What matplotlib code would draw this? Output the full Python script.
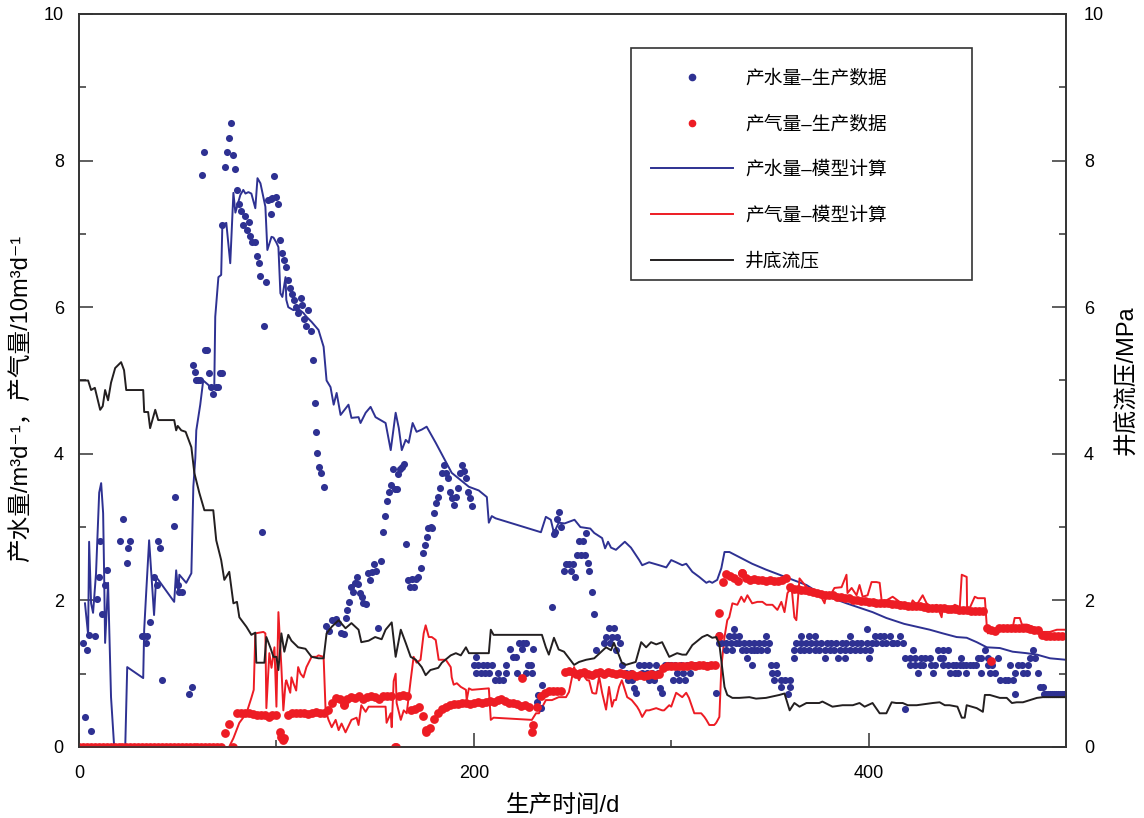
import numpy as np
import matplotlib.pyplot as plt
from matplotlib.lines import Line2D
from matplotlib.patches import Rectangle

plt.rcParams['font.family'] = ['Liberation Sans', 'Noto Sans CJK SC', 'DejaVu Sans']

BLUE = '#2e3192'
RED = '#ed1c24'
BLACK = '#231f20'

# measured water rate, (day, m3/d)
water_early = [(2, 1.42), (3, 0.41), (4.1, 1.32), (5.1, 1.53), (6.1, 0.22), (8.1, 1.51), (9.1, 2.02),
               (10.2, 2.32), (10.7, 2.81), (11.7, 1.81), (13.2, 2.21), (14.2, 2.41), (20.8, 2.81),
               (22.3, 3.11), (24.4, 2.51), (24.9, 2.71), (25.9, 2.81), (32, 1.51), (33, 1.51), (34, 1.42),
               (34.5, 1.51), (36, 1.71), (38, 2.32), (39.6, 2.21), (40.1, 2.81), (41.1, 2.71), (42.1, 0.91),
               (48.2, 3.01), (48.7, 3.41), (50.3, 2.21), (50.8, 2.11), (52.3, 2.11), (55.8, 0.72), (57.4, 0.82)]
water_peak = [(57.9, 5.21), (58.9, 5.11), (59.4, 5.0), (60.4, 5.0), (61.4, 5.0), (62.1, 7.81), (63.3, 8.12),
              (64, 5.42), (65, 5.42), (66, 5.1), (67, 4.91), (68, 4.82), (69.5, 4.91), (70.5, 4.91),
              (71.6, 5.1), (72.6, 5.1), (72.6, 7.12), (74.1, 7.91), (75.1, 8.12), (76.1, 8.31), (77.2, 8.51),
              (78.2, 8.08), (79.2, 7.89), (80.2, 7.6), (81.2, 7.41), (82.2, 7.31), (83.2, 7.12), (84.3, 7.24),
              (85.3, 7.05), (86.3, 7.16), (86.8, 6.97), (87.8, 6.89), (89.3, 6.89), (90.4, 6.7), (91.4, 6.6),
              (91.9, 6.43), (92.9, 2.93), (93.9, 5.74), (94.9, 6.34), (95.9, 7.46), (97, 7.48), (97, 7.27),
              (98, 7.49), (99, 7.79), (100, 7.5), (101, 7.41), (102, 6.92), (103, 6.74), (104, 6.64),
              (105, 6.55), (106, 6.37), (107, 6.26), (108, 6.18), (109, 6.1), (110, 6.0), (111, 5.92),
              (112.2, 6.12), (113.2, 6.03), (114.2, 5.84), (115.2, 5.74), (116.2, 5.96), (117.3, 5.68),
              (118.3, 5.28), (119.3, 4.69), (119.8, 4.3), (120.8, 4.01), (121.8, 3.82), (122.8, 3.74),
              (123.9, 3.55)]
water_mid = [(124.9, 1.65), (126.4, 1.58), (128, 1.73), (130, 1.74), (131, 1.69), (132.5, 1.56), (134, 1.54),
             (135, 1.76), (136, 1.87), (137, 1.98), (138, 2.18), (139, 2.11), (139.6, 2.24), (140.6, 2.32),
             (141.1, 2.22), (142.1, 2.1), (143.1, 2.05), (143.7, 1.96), (145.2, 1.95), (146.2, 2.37),
             (147.2, 2.28), (148.2, 2.39), (149.2, 2.5), (150.2, 2.4), (151.3, 1.62), (152.8, 2.54),
             (153.8, 2.93), (154.8, 3.15), (155.8, 3.36), (156.9, 3.48), (157.9, 3.57), (158.9, 3.79),
             (159.9, 3.52), (160.9, 3.52), (161.4, 3.72), (162.4, 3.79), (163.5, 3.82), (164.5, 3.86),
             (165.5, 2.77), (166.5, 2.28), (167.5, 2.18), (168.5, 2.29), (169.5, 2.18), (170.6, 2.29),
             (171.6, 2.32), (173.1, 2.44), (174.1, 2.65), (175.1, 2.76), (176.1, 2.87), (176.6, 2.99),
             (178.1, 3.0), (178.7, 2.99), (179.7, 3.19), (180.7, 3.33), (181.7, 3.41), (182.7, 3.53),
             (183.8, 3.74), (184.8, 3.85), (185.8, 3.74), (186.8, 3.67), (187.8, 3.48), (188.8, 3.4),
             (189.8, 3.3), (190.9, 3.41), (191.9, 3.53), (192.9, 3.74), (193.9, 3.85), (194.9, 3.77),
             (195.9, 3.67), (196.9, 3.48), (198, 3.4), (199, 3.29)]
water_late1 = [(200, 1.12), (201, 1.23), (201, 1.01), (202, 1.12), (203.6, 1.01), (204.5, 1.12), (205.8, 1.01),
               (206.6, 1.12), (207.8, 1.01), (209, 1.12), (210.6, 0.91), (212, 1.01), (213, 0.91), (215, 0.91),
               (216.4, 1.01), (216.4, 1.12), (218.5, 1.34), (219.7, 1.23), (221.4, 1.23), (222, 1.01),
               (223, 1.42), (224.4, 1.34), (224.8, 1.42), (226.4, 1.42), (226.4, 1.01), (227.6, 1.12),
               (229.2, 1.12), (229.5, 1.01), (229.8, 1.34), (232, 0.61), (232.6, 0.71), (234, 0.53),
               (234.5, 0.85), (239.6, 1.91), (240.6, 2.9), (241.2, 2.93), (242, 3.11), (243, 3.2), (244, 3.0),
               (245.7, 2.4), (246.7, 2.5), (248.2, 2.5), (249.2, 2.4), (250.3, 2.5), (251.3, 2.32),
               (252.3, 2.62), (253.3, 2.81), (254.3, 2.62), (255.4, 2.81), (256.4, 2.62), (256.9, 2.92),
               (258, 2.51), (258.5, 2.4), (260, 2.11), (261, 1.81)]
water_late2 = [(262, 1.32), (262.4, 1.01), (264.5, 1.01), (266, 1.42), (267, 1.5), (268.5, 1.62), (269, 1.42),
               (270, 1.5), (271, 1.62), (272, 1.32), (272.5, 1.5), (274, 1.42), (275, 1.12), (277, 1.01),
               (278, 0.91), (279.6, 1.01), (280, 0.91), (281, 0.8), (282, 0.74), (283.8, 1.12), (285, 1.01),
               (286.3, 1.12), (287.5, 1.01), (288.5, 0.91), (289, 1.12), (290.5, 1.01), (291.5, 0.91),
               (292.4, 1.12), (293.5, 1.01), (294.5, 0.8), (295.5, 0.74), (297, 1.12), (298.5, 1.12),
               (300, 1.12), (301, 0.91), (302, 1.12), (303, 1.01), (304, 0.91), (305, 1.12), (306, 1.01),
               (307, 0.91), (308, 1.12), (309.5, 1.01), (311, 1.12), (312.5, 1.12), (314, 1.12), (316, 1.12),
               (318, 1.12), (320, 1.12), (322.8, 0.74), (324.4, 1.53)]
water_tail = [(324.4, 1.42), (325.4, 1.42), (328, 1.42), (330.5, 1.42), (333, 1.42), (334.5, 1.42), (337, 1.42),
              (339.6, 1.42), (342, 1.42), (344.7, 1.42), (347, 1.42), (349.7, 1.42), (329.4, 1.51), (332, 1.51),
              (334.5, 1.51), (348, 1.51), (332, 1.61), (328, 1.32), (331, 1.32), (336, 1.32), (338, 1.32),
              (340.6, 1.32), (342, 1.32), (343.7, 1.32), (345.7, 1.32), (348.7, 1.32), (338.6, 1.21),
              (341, 1.12), (350.8, 1.12), (353.3, 1.12), (351.3, 1.01), (353.8, 1.01), (352.3, 0.91),
              (355.8, 0.91), (357.4, 0.91), (360, 0.91), (355.8, 0.82), (360, 0.82), (359, 0.72),
              (362.4, 1.32), (365, 1.32), (367.5, 1.32), (370, 1.32), (372.6, 1.32), (375, 1.32), (377.7, 1.32),
              (380.2, 1.32), (382.7, 1.32), (385.3, 1.32), (387.8, 1.32), (390.4, 1.32), (392.9, 1.32),
              (395.4, 1.32), (398, 1.32), (400.5, 1.32), (363.4, 1.42), (366, 1.42), (368.5, 1.42), (371, 1.42),
              (373.6, 1.42), (376.1, 1.42), (378.7, 1.42), (381.2, 1.42), (383.7, 1.42), (386.3, 1.42),
              (388.8, 1.42), (391.4, 1.42), (393.9, 1.42), (396.4, 1.42), (399, 1.42), (401.5, 1.42),
              (404, 1.42), (406.6, 1.42), (409, 1.42), (411.7, 1.42), (414.2, 1.42), (366, 1.51), (370, 1.51),
              (372.6, 1.51), (390.4, 1.51), (403, 1.51), (405.6, 1.51), (408, 1.51), (410.7, 1.51),
              (415.7, 1.51), (399, 1.61), (362.4, 1.21), (377.7, 1.21), (384.3, 1.21), (387.8, 1.21),
              (400, 1.21), (412.2, 1.42), (417.3, 1.42), (422.3, 1.32), (435, 1.32), (437.6, 1.32),
              (440.1, 1.32), (458.9, 1.32), (483.2, 1.32), (418.3, 1.21), (420.8, 1.21), (423.4, 1.21),
              (426.8, 1.21), (428.4, 1.21), (431, 1.21), (436, 1.21), (437.6, 1.21), (447, 1.21),
              (455.5, 1.21), (457.2, 1.21), (460.5, 1.21), (465.6, 1.21), (481.7, 1.21), (484.3, 1.21),
              (420.8, 1.12), (423.4, 1.12), (425.9, 1.12), (427.6, 1.12), (431.8, 1.12), (433.5, 1.12),
              (437.7, 1.12), (440.2, 1.12), (442.8, 1.12), (444.5, 1.12), (446.2, 1.12), (447.8, 1.12),
              (449.5, 1.12), (451.3, 1.12), (453, 1.12), (454.6, 1.12), (460.5, 1.12), (462.3, 1.12),
              (471.6, 1.12), (475.8, 1.12), (477.5, 1.12), (480.9, 1.12), (425, 1.01), (432.6, 1.01),
              (441.1, 1.01), (443.7, 1.01), (445.3, 1.01), (449.2, 1.01), (456.7, 1.01), (461.4, 1.01),
              (464, 1.01), (474, 1.01), (478.3, 1.01), (480, 1.01), (485.9, 1.01), (466.5, 0.91), (469, 0.91),
              (470.7, 0.91), (473.2, 0.91), (418.3, 0.52), (474, 0.72), (486.8, 0.82), (488.3, 0.82),
              (489, 0.72), (490, 0.72), (491, 0.72), (492, 0.72), (493, 0.72), (494, 0.72), (495, 0.72),
              (496, 0.72), (497, 0.72), (498, 0.72), (499, 0.72), (500, 0.72)]

# measured gas rate, 10 m3/d, every second day from day 0
gas_rate = [0, 0, 0, 0, 0, 0, 0, 0, 0, 0, 0, 0, 0, 0, 0, 0, 0, 0, 0, 0,
            0, 0, 0, 0, 0, 0, 0, 0, 0, 0, 0, 0, 0, 0, 0, 0, 0, 0.19, 0.31, 0,
            0.46, 0.46, 0.46, 0.47, 0.45, 0.44, 0.43, 0.44, 0.41, 0.43, 0.43, 0.2, 0.12, 0.43, 0.46, 0.47, 0.46, 0.47, 0.45, 0.47,
            0.48, 0.46, 0.47, 0.5, 0.6, 0.67, 0.66, 0.58, 0.66, 0.68, 0.67, 0.69, 0.66, 0.68, 0.69, 0.68, 0.66, 0.69, 0.7, 0.69,
            0, 0.7, 0.71, 0.7, 0.5, 0.52, 0.55, 0.42, 0.2, 0.26, 0.38, 0.47, 0.52, 0.55, 0.57, 0.58, 0.58, 0.6, 0.6, 0.59,
            0.6, 0.62, 0.6, 0.62, 0.63, 0.62, 0.64, 0.65, 0.63, 0.6, 0.6, 0.58, 0.56, 0.57, 0.55, 0.3, 0.55, 0.7, 0.74, 0.76,
            0.76, 0.77, 0.76, 1.02, 1.03, 1.02, 1.0, 1.01, 1.02, 1.0, 0.98, 1.01, 1.02, 1.0, 1.02, 1.01, 1.0, 1.01, 0.99, 0.98,
            1.0, 0.97, 0.98, 0.97, 0.98, 0.99, 0.98, 1.0, 1.08, 1.1, 1.1, 1.11, 1.1, 1.11, 1.11, 1.12, 1.11, 1.12, 1.12, 1.11,
            1.12, 1.12, 1.83, 2.25, 2.36, 2.33, 2.3, 2.27, 2.37, 2.3, 2.28, 2.29, 2.28, 2.28, 2.27, 2.28, 2.27, 2.27, 2.28, 2.3,
            2.18, 2.16, 2.15, 2.14, 2.14, 2.13, 2.12, 2.1, 2.09, 2.08, 2.07, 2.07, 2.05, 2.05, 2.03, 2.03, 2.01, 2.0, 1.99, 1.99,
            1.98, 1.98, 1.97, 1.97, 1.96, 1.96, 1.95, 1.95, 1.94, 1.94, 1.93, 1.93, 1.92, 1.92, 1.91, 1.9, 1.9, 1.9, 1.89, 1.89,
            1.88, 1.88, 1.88, 1.87, 1.87, 1.87, 1.86, 1.86, 1.86, 1.85, 1.62, 1.6, 1.58, 1.63, 1.63, 1.62, 1.63, 1.62, 1.62, 1.62,
            1.62, 1.61, 1.6, 1.6, 1.53, 1.52, 1.52, 1.52, 1.52, 1.52]
gas_extra = [(102.5, 0.14), (103.5, 0.1), (134, 0.57), (160.4, 0), (176, 0.23), (224.4, 0.94),
             (229.4, 0.2), (324.4, 1.51), (336, 2.37), (461.8, 1.18)]

# simulated water rate (m3/d)
model_water = [(3, 1.96), (4.6, 1.53), (5.1, 2.8), (6.1, 1.96), (7.1, 1.83), (8.6, 2.37), (10.2, 3.47),
               (11.2, 3.6), (12.2, 3.19), (12.7, 2.37), (13.2, 1.42), (14.7, 2.24), (16.2, 0.68), (17.8, 0),
               (23.4, 0), (24.4, 1.09), (32.5, 0.94), (33, 1.6), (34, 2.1), (35.5, 2.82), (36.5, 2.41),
               (38, 1.8), (39.1, 2.32), (48.2, 1.98), (49.2, 2.41), (50.3, 2.1), (50.8, 2.35), (54.3, 2.24),
               (56.9, 2.37), (57.9, 3.55), (58.9, 3.94), (59.4, 4.32), (61.4, 4.67), (62.9, 5.0), (65.5, 4.94),
               (67, 4.87), (68.5, 4.9), (69, 5.87), (70.6, 6.41), (72, 6.44), (72.6, 7.12), (74.6, 7.15),
               (76.6, 6.6), (78.2, 7.56), (79.2, 7.29), (81.7, 7.53), (83.2, 7.6), (84.3, 7.55), (85.8, 7.57),
               (87.3, 7.55), (89.3, 7.35), (90.4, 7.76), (91.9, 7.69), (94.4, 7.37), (95.4, 6.78), (97.5, 6.96),
               (98.5, 6.95), (100, 6.88), (101, 6.82), (102, 6.19), (103, 6.14), (104.6, 6.41), (105, 6.1),
               (106, 6.0), (108.6, 5.96), (111, 5.98), (113.7, 5.92), (115.2, 5.87), (117.8, 5.8),
               (121.3, 5.69), (123.9, 5.46), (125.4, 5.0), (127.4, 4.91), (129, 4.67), (130.5, 4.83),
               (132.5, 4.53), (136.5, 4.67), (138, 4.49), (141.6, 4.5), (142.6, 4.42), (145.2, 4.56),
               (147.7, 4.64), (150.2, 4.5), (155.3, 4.42), (157.9, 4.05), (160.4, 4.56), (162, 4.35),
               (163.5, 4.05), (165.5, 4.19), (167, 4.15), (169, 4.42), (171, 4.3), (173.6, 4.33), (176.1, 4.37),
               (180.7, 4.15), (185.8, 3.89), (188.8, 3.74), (193.4, 3.64), (197.5, 3.55), (202.5, 3.5),
               (206.6, 3.41), (207.6, 3.06), (209.1, 3.15), (211, 3.12), (234, 2.93), (236.5, 3.14), (239, 3.1),
               (240.6, 2.92), (243, 3.06), (246, 3.05), (251, 3.1), (254, 3.0), (259, 2.98), (261, 2.92),
               (265, 2.85), (266.5, 2.71), (268, 2.8), (269.5, 2.72), (272, 2.69), (276.5, 2.8), (279.6, 2.72),
               (283.8, 2.55), (285.3, 2.48), (288.8, 2.52), (293.9, 2.48), (297.5, 2.45), (300, 2.55),
               (302.5, 2.52), (305.6, 2.48), (307.6, 2.5), (310.7, 2.39), (314.2, 2.32), (317.8, 2.24),
               (319.3, 2.26), (320.8, 2.24), (323.3, 2.28), (325.4, 2.44), (327, 2.66), (329.5, 2.66),
               (334.5, 2.59), (341, 2.5), (348, 2.42), (354.8, 2.35), (361.5, 2.28), (368.5, 2.21), (375, 2.1),
               (381.7, 2.03), (388.8, 1.96), (395.4, 1.9), (402, 1.84), (409, 1.76), (415.7, 1.7), (418, 1.68),
               (424.4, 1.64), (431, 1.6), (437.6, 1.55), (444.6, 1.5), (449.7, 1.49), (454.8, 1.43),
               (459.9, 1.36), (466.5, 1.35), (473, 1.3), (480, 1.28), (485.3, 1.26), (491.9, 1.21), (500, 1.19)]

# simulated gas rate (10 m3/d)
model_gas = [(0, 0), (76, 0), (78.2, 0.12), (81.2, 0.33), (84.8, 0.46), (87.3, 0.67), (88.5, 0.78), (89.3, 1.55),
             (93.4, 1.57), (94.4, 1.55), (94.9, 0.53), (96.4, 1.28), (97.5, 1.08), (99, 1.36), (100, 0.55),
             (101, 1.84), (102.5, 1.09), (103.5, 0.5), (104.6, 0.87), (105, 0.91), (107, 0.74), (107.6, 0.95),
             (108.6, 0.87), (110, 0.77), (111, 1.09), (112.2, 1.0), (113.7, 0.95), (115.2, 1.09), (117.8, 1.23),
             (120.3, 1.23), (121.3, 1.25), (123.9, 1.23), (124.9, 0.5), (126.4, 0.37), (128, 0.27), (130, 0.37),
             (131.5, 0.23), (133, 0.32), (135, 0.2), (138, 0.37), (140.6, 0.4), (141.6, 0.3), (143, 0.57),
             (145.2, 0.48), (146.7, 0.55), (148.2, 0.55), (155.3, 0.55), (155.8, 0.33), (157.9, 0.46),
             (158.4, 0.27), (159.4, 0.9), (160.4, 1.0), (160.9, 0.6), (163, 0.37), (164.5, 0.5), (166, 0.46),
             (168, 0.91), (169.5, 1.23), (171, 1.15), (173, 1.19), (174.6, 1.55), (175.6, 1.66), (177.2, 1.5),
             (178.7, 1.5), (180.7, 1.46), (182.2, 1.19), (185.8, 1.19), (188.3, 1.09), (188.8, 0.95),
             (189.8, 0.85), (191.4, 0.87), (193.4, 0.82), (196, 0.78), (196.4, 0.64), (197.5, 0.8), (199, 0.78),
             (207.6, 0.8), (208.6, 0.37), (210, 0.4), (229.4, 0.37), (231.5, 0.46), (233, 0.46), (236.5, 0.64),
             (239.6, 0.64), (243, 0.68), (246.7, 0.68), (248.2, 0.75), (250.8, 1.09), (251.8, 1.0),
             (253.3, 0.91), (254.8, 1.0), (257.4, 0.91), (258.4, 0.91), (260, 0.74), (261, 0.73), (262, 0.73),
             (263.5, 0.96), (265, 0.74), (267, 0.51), (268.5, 0.82), (270, 0.55), (271, 0.64), (272, 0.64),
             (273.6, 0.82), (275, 0.91), (277.7, 0.68), (280, 0.64), (282.7, 0.55), (283.8, 0.5), (285.3, 0.41),
             (287.3, 0.5), (288.8, 0.5), (292.4, 0.53), (295.4, 0.5), (296.4, 0.5), (299, 0.57), (300, 0.55),
             (302.5, 0.74), (305.6, 0.68), (307.6, 0.74), (309, 0.67), (311.7, 0.46), (314.2, 0.46),
             (315.2, 0.46), (316.8, 0.41), (317.8, 0.37), (319.3, 0.3), (320.3, 0.3), (321.8, 0.3),
             (322.8, 0.33), (324.4, 0.41), (325.4, 1.09), (327, 1.5), (328.4, 1.73), (329.4, 1.77), (331, 1.96),
             (333.5, 1.94), (335.5, 2.05), (337, 1.98), (338.6, 2.07), (341, 1.96), (343.7, 1.98), (346.2, 1.98),
             (348.2, 1.94), (351.3, 1.94), (353.8, 1.87), (355.8, 1.98), (357.4, 1.84), (358.9, 2.1),
             (361, 2.18), (362.4, 1.77), (363.4, 1.73), (365, 2.3), (366.5, 2.25), (369, 2.17), (371.6, 2.14),
             (375, 2.1), (377.7, 1.96), (378.7, 2.11), (380.2, 2.05), (382.7, 2.17), (386.3, 2.18),
             (388.8, 2.35), (389.3, 2.1), (391.4, 2.17), (393.9, 2.07), (395.4, 2.21), (397, 2.05),
             (399.5, 2.07), (401.5, 2.25), (404, 2.25), (405.6, 2.24), (406.6, 2.0), (409, 2.0), (412.2, 2.05),
             (415.7, 1.98), (418.3, 1.96), (420.8, 1.89), (422.3, 2.0), (424.4, 1.94), (427.4, 2.07),
             (429.4, 1.96), (432, 1.91), (434.5, 1.94), (437, 1.77), (437.6, 1.91), (440, 1.87), (443.7, 1.94),
             (446.2, 1.91), (447.2, 2.35), (449.7, 2.32), (449.9, 1.9), (451.3, 1.9), (453.8, 2.05),
             (455.3, 2.03), (458.9, 2.03), (459.9, 1.64), (460.4, 1.55), (462.4, 1.57), (465, 1.6), (468, 1.6),
             (473, 1.63), (474, 1.76), (476.6, 1.76), (477.7, 1.67), (480.2, 1.67), (483.2, 1.64), (485.8, 1.6),
             (488.3, 1.57), (491.9, 1.57), (495.4, 1.6), (500, 1.6)]

# bottomhole flowing pressure (MPa)
bhp = [(0, 5.0), (2, 5.0), (4.6, 5.0), (6.1, 4.87), (8, 4.9), (10.7, 4.6), (12, 4.65), (13.2, 4.87), (14.7, 4.73),
       (16.2, 4.97), (18.3, 5.17), (21.3, 5.25), (22.8, 5.14), (23.9, 4.87), (32.5, 4.87), (33, 4.57), (35, 4.57),
       (36, 4.35), (38.6, 4.6), (40.1, 4.46), (48.2, 4.46), (49.2, 4.32), (50, 4.38), (51.8, 4.32), (54, 4.3),
       (56.9, 4.09), (58.4, 3.74), (60.9, 3.47), (63.5, 3.23), (68, 3.23), (69.5, 2.82), (72, 2.55), (73.6, 2.28),
       (76.1, 2.39), (78.2, 1.96), (80, 1.98), (81.2, 1.77), (84.8, 1.64), (87.3, 1.53), (89.3, 1.56),
       (89.8, 1.15), (93.9, 1.15), (94.9, 1.5), (97, 1.35), (98.5, 1.23), (100, 1.23), (101, 1.05),
       (102.5, 1.55), (104, 1.3), (106, 1.53), (107.6, 1.45), (111, 1.36), (114.7, 1.34), (117.8, 1.23),
       (121.3, 1.21), (123.9, 1.21), (125.4, 1.55), (128, 1.64), (131.5, 1.73), (135, 1.62), (138, 1.69),
       (141.6, 1.6), (143, 1.43), (146.7, 1.45), (150, 1.5), (153.3, 1.47), (155.3, 1.6), (158.4, 1.7),
       (160.4, 1.23), (163, 1.6), (165.5, 1.42), (168, 1.23), (170.6, 1.19), (173.6, 1.09), (175.6, 0.98),
       (178, 1.05), (182, 1.08), (183.8, 1.15), (188.3, 1.25), (190.9, 1.28), (193.4, 1.25), (196, 1.36),
       (197.5, 1.28), (201, 1.28), (207.6, 1.28), (208.6, 1.6), (210, 1.53), (234.5, 1.53), (236.5, 1.36),
       (238, 1.26), (240.6, 1.49), (243, 1.33), (245.7, 1.3), (250.8, 1.12), (253.3, 1.16), (256.9, 1.19),
       (261, 1.21), (267, 1.36), (269.5, 1.32), (271, 1.42), (275, 1.15), (277, 1.12), (282, 1.16),
       (284.8, 1.43), (287.3, 1.36), (289.8, 1.43), (292.4, 1.4), (295.4, 1.43), (299, 1.23), (303, 1.28),
       (305.6, 1.26), (307.6, 1.26), (310.7, 1.39), (315.7, 1.5), (318.3, 1.53), (320.8, 1.49), (322.8, 1.5),
       (324.4, 1.4), (327, 0.82), (328.4, 0.71), (331, 0.67), (334.5, 0.67), (339.6, 0.68), (343, 0.66),
       (348, 0.67), (349.7, 0.68), (354.8, 0.71), (357.4, 0.73), (360, 0.5), (362.4, 0.6), (365, 0.55),
       (368.5, 0.6), (375, 0.6), (376.6, 0.62), (381.7, 0.55), (386.8, 0.57), (392, 0.57), (395.4, 0.6),
       (398, 0.55), (402, 0.6), (405.6, 0.46), (409, 0.46), (411.7, 0.61), (414, 0.6), (417.3, 0.6),
       (419.8, 0.57), (424.4, 0.57), (432.5, 0.6), (436, 0.61), (438.6, 0.57), (441, 0.57), (445, 0.55),
       (447.2, 0.4), (448.7, 0.4), (449.7, 0.57), (454.8, 0.53), (457.9, 0.48), (458.9, 0.71), (461.4, 0.71),
       (466.5, 0.67), (470, 0.67), (472.6, 0.6), (475, 0.61), (478.2, 0.61), (481.7, 0.64), (485.3, 0.67),
       (488.3, 0.68), (500, 0.68)]

water = np.array(water_early + water_peak + water_mid + water_late1 + water_late2 + water_tail)
gas_days = np.arange(0, 2 * len(gas_rate), 2)
gas = np.vstack([np.column_stack([gas_days, gas_rate]), np.array(gas_extra)])
mw = np.array(model_water)
mg = np.array(model_gas)
p = np.array(bhp)

fig = plt.figure(figsize=(11.44, 8.18), dpi=100)
ax = fig.add_axes([0.0691, 0.0868, 0.8627, 0.8961])
ax2 = ax.twinx()

ax.plot(mw[:, 0], mw[:, 1], color=BLUE, lw=1.4, zorder=2)
ax.plot(mg[:, 0], mg[:, 1], color=RED, lw=1.4, zorder=3)
ax.scatter(water[:, 0], water[:, 1], s=26, color=BLUE, linewidths=0, zorder=4)
ax.scatter(gas[:, 0], gas[:, 1], s=40, color=RED, linewidths=0, zorder=5)
ax2.plot(p[:, 0], p[:, 1], color=BLACK, lw=1.4)

ax.set_xlim(0, 500)
ax.set_ylim(0, 10)
ax2.set_ylim(0, 10)

ax.set_xticks([0, 200, 400])
ax.set_xticks([100, 300], minor=True)
for a in (ax, ax2):
    a.set_yticks([0, 2, 4, 6, 8, 10])
    a.set_yticks([1, 3, 5, 7, 9], minor=True)
    for s in a.spines.values():
        s.set_color('#333333')
        s.set_linewidth(1.2)

ax.tick_params(which='both', direction='in', width=1.1, color='#333333', labelsize=13, top=False, right=False)
ax.tick_params(which='major', length=10)
ax.tick_params(which='minor', length=5)
ax.tick_params(axis='y', pad=11)
ax.tick_params(axis='x', pad=13)
ax2.tick_params(which='both', direction='in', width=1.1, color='#333333', labelsize=13, pad=13)
ax2.tick_params(which='major', length=10)
ax2.tick_params(which='minor', length=5)

ax.set_xlabel('生产时间/d', fontsize=17, labelpad=9)
ax.xaxis.label.set_x(0.49)
ax.set_ylabel('产水量/m³d⁻¹，产气量/10m³d⁻¹', fontsize=17, labelpad=8)
ax.yaxis.label.set_y(0.475)
ax2.set_ylabel('井底流压/MPa', fontsize=17, labelpad=8)

# legend frame drawn separately so the entries can sit a little lower inside it
box = (0.559, 0.637, 0.346, 0.3166)
ax2.add_patch(Rectangle(box[:2], box[2], box[3], transform=ax2.transAxes, facecolor='white',
                        edgecolor='#333333', linewidth=1.2, zorder=9))

handles = [
    Line2D([], [], marker='o', ls='none', color=BLUE, markersize=4.5),
    Line2D([], [], marker='o', ls='none', color=RED, markersize=4.5),
    Line2D([], [], color=BLUE, lw=1.4),
    Line2D([], [], color=RED, lw=1.4),
    Line2D([], [], color=BLACK, lw=1.4),
]
labels = ['产水量–生产数据', '产气量–生产数据', '产水量–模型计算', '产气量–模型计算', '井底流压']
leg = ax2.legend(handles, labels, loc='upper left',
                 bbox_to_anchor=(box[0] + 0.004, box[1] - 0.008, box[2], box[3]),
                 mode='expand', borderaxespad=0, fontsize=13.5, handlelength=4.4, handletextpad=0.65,
                 labelspacing=1.5, borderpad=0.85, frameon=False, numpoints=1)
leg.set_zorder(10)

fig.savefig('out.png', dpi=100)
